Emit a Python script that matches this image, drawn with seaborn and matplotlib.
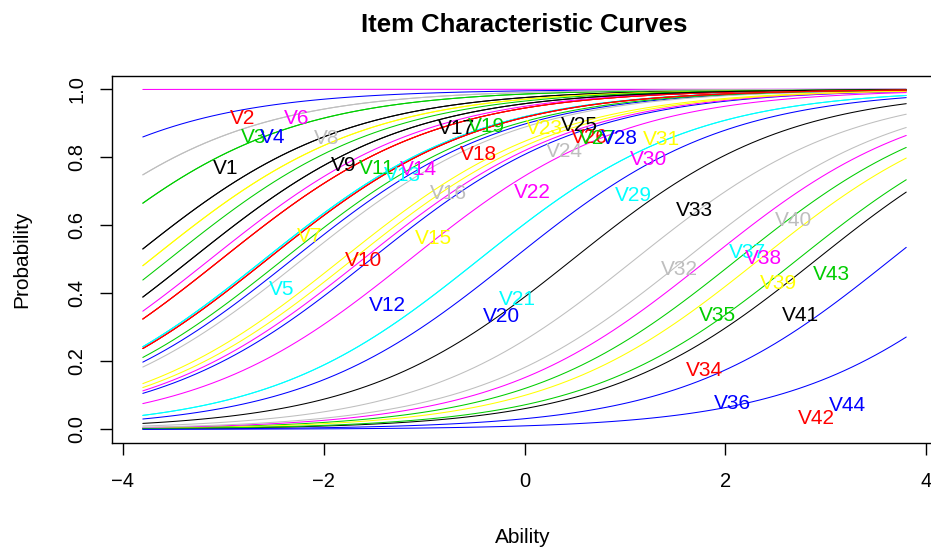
import numpy as np
import pandas as pd
import matplotlib
matplotlib.use("Agg")
import matplotlib.pyplot as plt
import seaborn as sns

# ---- data -------------------------------------------------------------
items = ["V1", "V2", "V3", "V4", "V5", "V6", "V7", "V8", "V9", "V10",
         "V11", "V12", "V13", "V14", "V15", "V16", "V17", "V18", "V19", "V20",
         "V21", "V22", "V23", "V24", "V25", "V26", "V27", "V28", "V29", "V30",
         "V31", "V32", "V33", "V34", "V35", "V36", "V37", "V38", "V39", "V40",
         "V41", "V42", "V43", "V44"]

# item difficulties (1PL, common discrimination); several items share a value
difficulty = [-3.93, -3.02, -4.53, -5.73, -2.59, -12.0, -3.72, -4.96,
              -3.93, -3.02, -4.53, -2.31, -2.59, -3.13, -3.72, -4.96,
              -3.32, -3.02, -3.54, -1.53, -2.59, -1.61, -1.82, -2.21,
              -3.32, -2.56, -2.40, -0.12, -0.45, -1.14, -1.71, 1.10,
              0.48, -2.56, 2.12, 3.65, -0.45, 1.83, 2.34, 1.60,
              2.91, -2.56, 2.72, 4.85]
discrimination = 0.94
ability_range = [-3.8, 3.8]
n_points = 100

# item label positions (ability, probability)
label_x = [-2.98, -2.81, -2.70, -2.51, -2.42, -2.27, -2.14, -1.97, -1.80, -1.60,
           -1.47, -1.37, -1.22, -1.06, -0.91, -0.76, -0.68, -0.46, -0.38, -0.23,
           -0.07, 0.08, 0.20, 0.40, 0.55, 0.65, 0.73, 0.94, 1.08, 1.23,
           1.36, 1.54, 1.69, 1.79, 1.92, 2.07, 2.22, 2.38, 2.53, 2.68,
           2.75, 2.91, 3.06, 3.21]
label_y = [0.768, 0.915, 0.859, 0.859, 0.412, 0.915, 0.566, 0.854, 0.777, 0.496,
           0.768, 0.363, 0.748, 0.763, 0.562, 0.694, 0.885, 0.809, 0.890, 0.333,
           0.382, 0.696, 0.885, 0.816, 0.895, 0.859, 0.856, 0.856, 0.689, 0.794,
           0.851, 0.469, 0.643, 0.174, 0.336, 0.076, 0.519, 0.503, 0.429, 0.614,
           0.336, 0.032, 0.454, 0.069]

r_palette = ["#000000", "#FF0000", "#00CD00", "#0000FF",
             "#00FFFF", "#FF00FF", "#FFFF00", "#BEBEBE"]

# ---- build long table -------------------------------------------------
theta = np.linspace(ability_range[0], ability_range[1], n_points)
frames = []
for name, b in zip(items, difficulty):
    p = 1.0 / (1.0 + np.exp(-discrimination * (theta - b)))
    frames.append(pd.DataFrame({"Ability": theta, "Probability": p, "Item": name}))
df = pd.concat(frames, ignore_index=True)
colors = [r_palette[i % len(r_palette)] for i in range(len(items))]

# ---- plot ---------------------------------------------------------------
sns.set_theme(style="white")
plt.rcParams["font.family"] = ["Liberation Sans", "DejaVu Sans"]

fig = plt.figure(figsize=(9.31, 5.49), dpi=100)
ax = fig.add_axes([0.1206, 0.1925, 0.8856, 0.6696])

sns.lineplot(data=df, x="Ability", y="Probability", hue="Item",
             hue_order=items, palette=colors, legend=False,
             linewidth=0.75, estimator=None, sort=False, ax=ax)

for name, x, y, c in zip(items, label_x, label_y, colors):
    ax.text(x, y, name, color=c, ha="center", va="center", fontsize=15)

ax.set_xlim(-4.104, 4.104)
ax.set_ylim(-0.041, 1.040)
ax.set_xticks([-4, -2, 0, 2, 4])
ax.set_yticks([0.0, 0.2, 0.4, 0.6, 0.8, 1.0])
ax.set_yticklabels(["0.0", "0.2", "0.4", "0.6", "0.8", "1.0"],
                   rotation=90, va="center")
ax.tick_params(axis="both", which="major", direction="out", length=8.6,
               width=1.0, color="black", labelsize=14.5, labelcolor="black",
               bottom=True, left=True)
ax.tick_params(axis="x", pad=12)
ax.tick_params(axis="y", pad=10)
for s in ax.spines.values():
    s.set_visible(True)
    s.set_color("black")
    s.set_linewidth(1.0)

ax.set_xlabel("Ability", fontsize=15, color="black")
ax.set_ylabel("Probability", fontsize=15, color="black")
ax.xaxis.label.set_va("center")
ax.yaxis.label.set_va("center")
ax.xaxis.set_label_coords(0.4983, -0.255)
ax.yaxis.set_label_coords(-0.1095, 0.5)
fig.text(524.5 / 931, 1 - 25 / 549, "Item Characteristic Curves",
         fontsize=18.5, fontweight="bold", color="black",
         ha="center", va="center")

fig.savefig("out.png", dpi=100)
